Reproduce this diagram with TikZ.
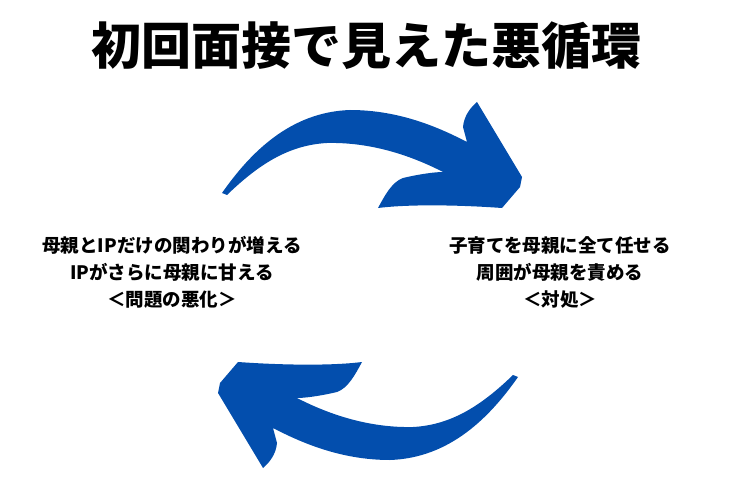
\documentclass[tikz,border=0pt]{standalone}
\usepackage{fontspec}
\setmainfont{Noto Sans CJK JP}
\usetikzlibrary{positioning}
\definecolor{arrowblue}{HTML}{034EAD}
\tikzset{
  cycletext/.style={font=\bfseries\fontsize{18.5}{27}\selectfont, align=center},
  cyclearrow/.style={fill=arrowblue, draw=none},
}
\begin{document}
\begin{tikzpicture}[x=1pt,y=-1pt]
    \useasboundingbox (0,0) rectangle (733,489);

    % Title
    \node[font=\bfseries\fontsize{50}{56}\selectfont] (title) at (366,46) {初回面接で見えた悪循環};

    % Texts
    \node[cycletext] (left) at (172,272) {母親とIPだけの関わりが増える\\IPがさらに母親に甘える\\＜問題の悪化＞};
    \node[cycletext] (right) at (560,272) {子育てを母親に全て任せる\\周囲が母親を責める\\＜対処＞};

    % Arrows
    \foreach \ang in {0,180} {
      \fill[cyclearrow, rotate around={\ang:(370,285)}]
        (222,193) .. controls (250,153) and (290,112) .. (350,110)
        .. controls (400,110) and (440,128) .. (467,142)
        -- (463,127) .. controls (464,116) and (470,108) .. (477,102)
        -- (522,177) -- (520,187) -- (502,208)
        .. controls (460,205) and (410,204) .. (378,208)
        .. controls (385,195) and (392,182) .. (403,178)
        .. controls (420,174) and (435,172) .. (443,172)
        .. controls (410,155) and (370,142) .. (327,143)
        .. controls (290,145) and (260,163) .. (227,195) -- cycle;
    }
\end{tikzpicture}
\end{document}
